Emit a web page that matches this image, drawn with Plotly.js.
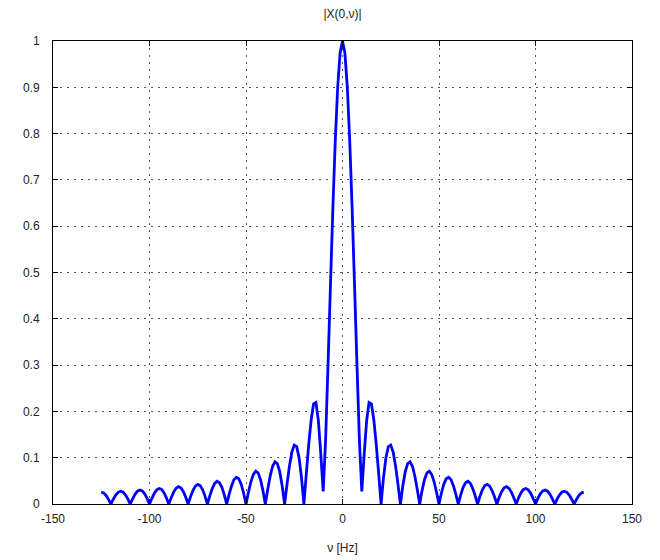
<!DOCTYPE html>
<html>
<head>
<meta charset="utf-8">
<script src="https://cdn.plot.ly/plotly-3.0.1.min.js"></script>
<style>html,body{margin:0;padding:0;background:#fff;}#chart{width:660px;height:560px;}</style>
</head>
<body>
<div id="chart"></div>
<script>
// Frequency grid: starts at -125 Hz, step 1.25 Hz (201 samples up to +125 Hz)
const freqStart = -125;
const freqStep = 1.25;

// |X(0,nu)| values, left to right
const magnitude = [
  0.0255, 0.0238, 0.0184, 0.0100,
  0, 0.0103, 0.0192, 0.0253, 0.0277, 0.0259, 0.0200, 0.0110,
  0, 0.0112, 0.0209, 0.0277, 0.0303, 0.0283, 0.0220, 0.0120,
  0, 0.0123, 0.0231, 0.0306, 0.0335, 0.0314, 0.0243, 0.0134,
  0, 0.0137, 0.0257, 0.0341, 0.0374, 0.0351, 0.0273, 0.0150,
  0, 0.0155, 0.0290, 0.0386, 0.0424, 0.0399, 0.0310, 0.0171,
  0, 0.0177, 0.0333, 0.0444, 0.0490, 0.0461, 0.0360, 0.0199,
  0, 0.0207, 0.0391, 0.0523, 0.0579, 0.0547, 0.0429, 0.0238,
  0, 0.0250, 0.0474, 0.0636, 0.0707, 0.0672, 0.0530, 0.0295,
  0, 0.0314, 0.0600, 0.0811, 0.0909, 0.0871, 0.0693, 0.0390,
  0, 0.0424, 0.0818, 0.1120, 0.1273, 0.1238, 0.1000, 0.0573,
  0, 0.0650, 0.1286, 0.1810, 0.2160, 0.2190, 0.1801, 0.1083,
  0.027, 0.139, 0.300, 0.471, 0.637, 0.784, 0.900, 0.974,
  1,
  0.974, 0.900, 0.784, 0.637, 0.471, 0.300, 0.139, 0.027,
  0.1083, 0.1801, 0.2190, 0.2160, 0.1810, 0.1286, 0.0650, 0,
  0.0573, 0.1000, 0.1238, 0.1273, 0.1120, 0.0818, 0.0424, 0,
  0.0390, 0.0693, 0.0871, 0.0909, 0.0811, 0.0600, 0.0314, 0,
  0.0295, 0.0530, 0.0672, 0.0707, 0.0636, 0.0474, 0.0250, 0,
  0.0238, 0.0429, 0.0547, 0.0579, 0.0523, 0.0391, 0.0207, 0,
  0.0199, 0.0360, 0.0461, 0.0490, 0.0444, 0.0333, 0.0177, 0,
  0.0171, 0.0310, 0.0399, 0.0424, 0.0386, 0.0290, 0.0155, 0,
  0.0150, 0.0273, 0.0351, 0.0374, 0.0341, 0.0257, 0.0137, 0,
  0.0134, 0.0243, 0.0314, 0.0335, 0.0306, 0.0231, 0.0123, 0,
  0.0120, 0.0220, 0.0283, 0.0303, 0.0277, 0.0209, 0.0112, 0,
  0.0110, 0.0200, 0.0259, 0.0277, 0.0253, 0.0192, 0.0103, 0,
  0.0100, 0.0184, 0.0238, 0.0255
];

const xTickVals = [-150, -100, -50, 0, 50, 100, 150];
const xTickText = ['-150', '-100', '-50', '0', '50', '100', '150'];
const yTickVals = [0, 0.1, 0.2, 0.3, 0.4, 0.5, 0.6, 0.7, 0.8, 0.9, 1];
const yTickText = ['0', '0.1', '0.2', '0.3', '0.4', '0.5', '0.6', '0.7', '0.8', '0.9', '1'];

const titleText = '|X(0,\u03bd)|';
const xTitleText = '\u03bd [Hz]';

const fontFamily = 'Liberation Sans, Arial, sans-serif';

const axisCommon = {
  showline: true, linecolor: '#000', linewidth: 1, mirror: 'ticks',
  ticks: 'inside', ticklen: 5, tickcolor: '#000', tickwidth: 1,
  showgrid: true, gridcolor: '#555', gridwidth: 1, griddash: '2px,5px',
  zeroline: false, tickfont: {family: fontFamily, size: 12, color: '#222'},
  tickmode: 'array', fixedrange: true
};

const data = [{
  type: 'scatter', mode: 'lines',
  x0: freqStart, dx: freqStep, y: magnitude,
  line: {color: '#0000ff', width: 2.8, simplify: false},
  hoverinfo: 'skip'
}];

const layout = {
  width: 660, height: 560,
  margin: {l: 53, r: 28, t: 41, b: 56, pad: 0},
  paper_bgcolor: '#fff', plot_bgcolor: '#fff',
  showlegend: false,
  title: {text: titleText, font: {family: fontFamily, size: 12, color: '#222'},
          x: 0.5, xref: 'paper', y: 1, yref: 'container', yanchor: 'top', pad: {t: 10}},
  xaxis: Object.assign({}, axisCommon, {
    range: [-150, 150], tickvals: xTickVals, ticktext: xTickText,
    ticklabelstandoff: 4,
    title: {text: xTitleText, font: {family: fontFamily, size: 12, color: '#222'}, standoff: 18}
  }),
  yaxis: Object.assign({}, axisCommon, {
    range: [0, 1], tickvals: yTickVals, ticktext: yTickText,
    ticklabelstandoff: 10
  })
};

Plotly.newPlot('chart', data, layout, {displayModeBar: false, staticPlot: true});
</script>
</body>
</html>
